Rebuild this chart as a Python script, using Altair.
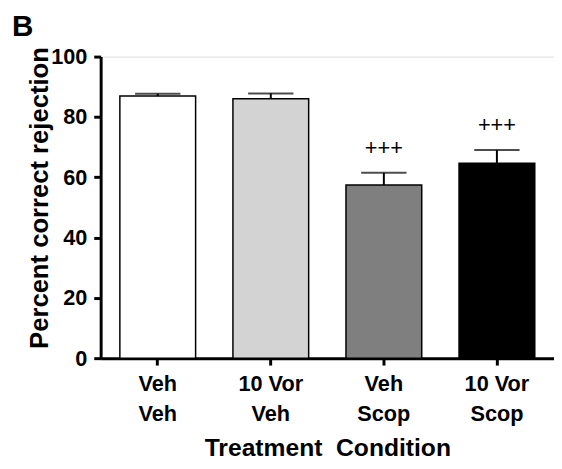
import altair as alt
import pandas as pd

conditions = ["Veh|Veh", "10 Vor|Veh", "Veh|Scop", "10 Vor|Scop"]
means = [86.9, 86.0, 57.4, 64.6]
sems = [0.8, 1.8, 4.1, 4.4]
marks = ["", "", "+++", "+++"]
colors = ["#ffffff", "#d3d3d3", "#7f7f7f", "#000000"]

df = pd.DataFrame({
    "cond": conditions,
    "mean": means,
    "upper": [m + s for m, s in zip(means, sems)],
    "sig": marks,
})

FONT = "Liberation Sans"

x = alt.X(
    "cond:N",
    sort=conditions,
    scale=alt.Scale(paddingInner=0.33, paddingOuter=0.17),
    axis=alt.Axis(
        title="Treatment\u00a0 Condition",
        labelExpr="split(datum.value, '|')",
        labelAngle=0,
        labelFont=FONT,
        labelFontSize=22,
        labelFontWeight="bold",
        labelColor="black",
        labelLineHeight=30,
        labelPadding=9,
        labelBaseline="top",
        bandPosition=0.5,
        domainColor="black",
        domainWidth=3,
        tickColor="black",
        tickWidth=3,
        tickSize=7,
        titleFont=FONT,
        titleFontSize=25,
        titleFontWeight="bold",
        titleColor="black",
        titleBaseline="alphabetic",
        titleY=99,
    ),
)

y_axis = alt.Axis(
    title="Percent correct rejection",
    values=[0, 20, 40, 60, 80, 100],
    grid=False,
    labelFont=FONT,
    labelFontSize=22,
    labelFontWeight="bold",
    labelColor="black",
    labelPadding=7,
    domainColor="black",
    domainWidth=3,
    tickColor="black",
    tickWidth=3,
    tickSize=7,
    titleFont=FONT,
    titleFontSize=26,
    titleFontWeight="bold",
    titleColor="black",
    titleBaseline="alphabetic",
    titleX=-54,
    titleY=143,
    titleAngle=-90,
)

base = alt.Chart(df)

bars = base.mark_bar(stroke="black", strokeWidth=1.5).encode(
    x=x,
    y=alt.Y("mean:Q", scale=alt.Scale(domain=[0, 100], nice=False), axis=y_axis),
    fill=alt.Fill("cond:N", scale=alt.Scale(domain=conditions, range=colors), legend=None),
)

err = base.mark_rule(color="black", strokeWidth=2).encode(
    x=alt.X("cond:N", sort=conditions),
    y="mean:Q",
    y2="upper:Q",
)

caps = base.mark_tick(color="black", thickness=2, size=46, orient="horizontal").encode(
    x=alt.X("cond:N", sort=conditions),
    y="upper:Q",
)

sig = base.mark_text(font=FONT, fontSize=22, color="black", baseline="middle", dy=-25).encode(
    x=alt.X("cond:N", sort=conditions),
    y="upper:Q",
    text="sig:N",
)

panel = alt.Chart(pd.DataFrame({"t": ["B"]})).mark_text(
    font=FONT, fontSize=30, fontWeight="bold", color="black", align="left", baseline="alphabetic"
).encode(
    x=alt.value(-90),
    y=alt.value(-21),
    text="t:N",
)

chart = alt.layer(bars, err, caps, sig, panel).properties(
    width=460,
    height=306,
    autosize="none",
    padding={"left": 94, "top": 46, "right": 0, "bottom": 100},
).configure_view(stroke=None).configure(background="white")

chart.save("out.html", embed_options={"renderer": "svg", "actions": False})
